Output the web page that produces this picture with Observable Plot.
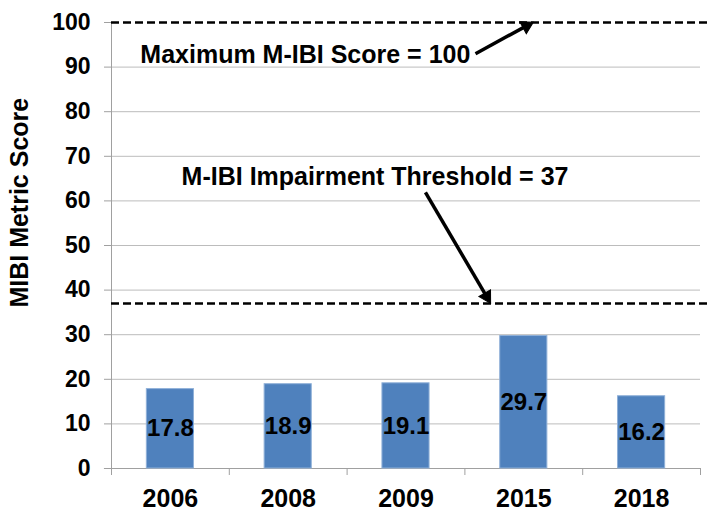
<!DOCTYPE html>
<html>
<head>
<meta charset="utf-8">
<script src="https://cdn.jsdelivr.net/npm/d3@7"></script>
<script src="https://cdn.jsdelivr.net/npm/@observablehq/plot@0.6"></script>
<style>
  html, body { margin: 0; padding: 0; background: #fff; }
</style>
</head>
<body>
<div id="chart"></div>
<script>
const years = ["2006", "2008", "2009", "2015", "2018"];
const scores = [17.8, 18.9, 19.1, 29.7, 16.2];
const yTicks = [0, 10, 20, 30, 40, 50, 60, 70, 80, 90, 100];
const gridTicks = [10, 20, 30, 40, 50, 60, 70, 80, 90];
const maxScore = 100;
const threshold = 37;
const yLabel = "MIBI Metric Score";
const annotations = [
  {text: "Maximum M-IBI Score = 100", x: 0.245, y: 92.7},
  {text: "M-IBI Impairment Threshold = 37", x: 0.595, y: 65.3}
];
const arrows = [
  {x1: 3.09, y1: 93.0, x2: 3.575, y2: 100.0},
  {x1: 2.665, y1: 61.9, x2: 3.215, y2: 37.2}
];

const W = 709, H = 510, ML = 111, MR = 9, MT = 22, MB = 42;
const pxX = (W - ML - MR) / years.length;
const pxY = (H - MT - MB) / 100;
// arrow heads: filled triangles, positioned slightly back from the tip
const heads = arrows.map(a => {
  const dx = (a.x2 - a.x1) * pxX, dy = -(a.y2 - a.y1) * pxY;
  const len = Math.hypot(dx, dy);
  const back = 7;
  return {
    x: a.x2 - (dx / len) * back / pxX,
    y: a.y2 + (dy / len) * back / pxY,
    rotate: Math.atan2(dx, -dy) * 180 / Math.PI
  };
});

const data = years.map((year, i) => ({year, score: scores[i], i}));
const FONT = "'Liberation Sans', Arial, Helvetica, sans-serif";

const chart = Plot.plot({
  width: W,
  height: H,
  marginLeft: ML,
  marginRight: MR,
  marginTop: MT,
  marginBottom: MB,
  style: {fontFamily: FONT, fontWeight: "bold", background: "#fff", color: "#000"},
  x: {type: "linear", domain: [0, years.length], axis: null},
  y: {domain: [0, 100], axis: null},
  marks: [
    Plot.gridY(gridTicks, {stroke: "#bcbcbc", strokeOpacity: 1, strokeWidth: 1}),
    Plot.axisY({ticks: yTicks, tickSize: 7, tickPadding: 14, fontSize: 23, fontWeight: "bold",
      stroke: "#a0a0a0", fill: "#000", label: null}),
    Plot.axisX({ticks: d3.range(0, years.length + 1), tickSize: 7, tickFormat: () => "",
      stroke: "#a0a0a0", label: null}),
    Plot.ruleX([0], {y1: 0, y2: 100, stroke: "#a0a0a0"}),
    Plot.ruleY([0], {x1: -0.06, x2: years.length, stroke: "#a0a0a0"}),
    Plot.rectY(data, {x1: d => d.i + 0.3, x2: d => d.i + 0.7, y1: 0, y2: "score",
      fill: "#4f81bd", stroke: "#8fb0d8", strokeWidth: 1}),
    Plot.text(data, {x: d => d.i + 0.5, y: d => d.score / 2, text: d => d.score.toFixed(1),
      fontSize: 24, fontWeight: "bold", fill: "#000"}),
    Plot.text(data, {x: d => d.i + 0.5, y: 0, dy: 30, text: "year",
      fontSize: 25, fontWeight: "bold", fill: "#000"}),
    Plot.ruleY([maxScore], {x1: 0, x2: 5.1, stroke: "#000", strokeWidth: 2.5, strokeDasharray: "8,4"}),
    Plot.ruleY([threshold], {x1: 0, x2: 5.1, stroke: "#000", strokeWidth: 2.5, strokeDasharray: "8,4"}),
    Plot.text(annotations, {x: "x", y: "y", text: "text", textAnchor: "start",
      fontSize: 25, fontWeight: "bold", fill: "#000"}),
    Plot.link(arrows, {x1: "x1", y1: "y1", x2: (d, i) => heads[i].x, y2: (d, i) => heads[i].y,
      stroke: "#000", strokeWidth: 3.5}),
    Plot.dot(heads, {x: "x", y: "y", rotate: "rotate", symbol: "triangle", r: 5,
      fill: "#000", stroke: "#000", strokeWidth: 1}),
    Plot.text([yLabel], {x: -0.773, y: 59.6, text: d => d, rotate: -90,
      fontSize: 25, fontWeight: "bold", fill: "#000"})
  ]
});
document.getElementById("chart").appendChild(chart);
</script>
</body>
</html>
